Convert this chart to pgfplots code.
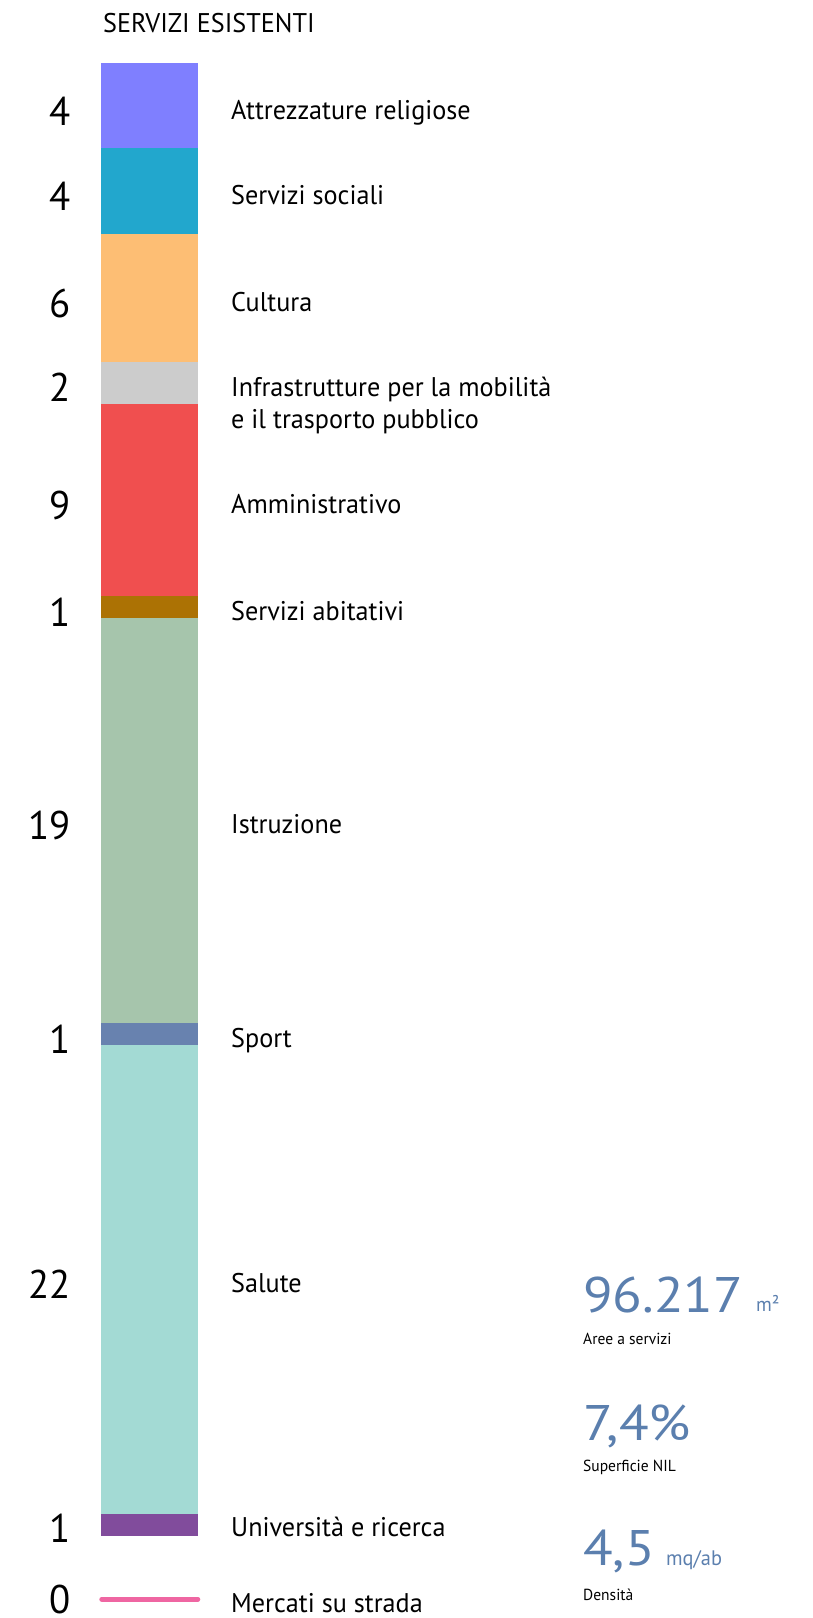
\documentclass[border=0pt]{standalone}
\usepackage{pgfplots}
\pgfplotsset{compat=1.18}
\usepackage{fontspec}
\setmainfont{PT Sans}[FakeStretch=0.97]
\newfontfamily\bigfont{PT Sans}[FakeStretch=1.09]

\definecolor{cRel}{HTML}{7F7FFF}
\definecolor{cSoc}{HTML}{22A7CD}
\definecolor{cCul}{HTML}{FDBE74}
\definecolor{cInf}{HTML}{CCCCCC}
\definecolor{cAmm}{HTML}{F04F4F}
\definecolor{cAbi}{HTML}{AC7204}
\definecolor{cIst}{HTML}{A6C5AC}
\definecolor{cSpo}{HTML}{6882AF}
\definecolor{cSal}{HTML}{A3DAD4}
\definecolor{cUni}{HTML}{814C9C}
\definecolor{cMer}{HTML}{EF66A2}
\definecolor{cTxt}{HTML}{5B7FAE}

\newcommand{\labfont}{\fontsize{27}{31.7}\selectfont}
\newcommand{\numfont}{\fontsize{40}{44}\selectfont}

\pgfplotsset{panel/.style={
    at={(0pt,0pt)}, anchor=north west,
    width=813pt, height=1618pt, scale only axis,
    xmin=0, xmax=813,
    ymin=-2.937, ymax=72.85,
    y dir=reverse,
    hide axis,
    clip=false,
}}

\begin{document}
\begin{tikzpicture}
\useasboundingbox (0pt,0pt) rectangle (813pt,-1618pt);
\begin{axis}[panel, ybar stacked, bar width=97]
  % servizi esistenti, dall'alto verso il basso
  \addplot[fill=cRel, draw=none] coordinates {(149.5,4)};
  \addplot[fill=cSoc, draw=none] coordinates {(149.5,4)};
  \addplot[fill=cCul, draw=none] coordinates {(149.5,6)};
  \addplot[fill=cInf, draw=none] coordinates {(149.5,2)};
  \addplot[fill=cAmm, draw=none] coordinates {(149.5,9)};
  \addplot[fill=cAbi, draw=none] coordinates {(149.5,1)};
  \addplot[fill=cIst, draw=none] coordinates {(149.5,19)};
  \addplot[fill=cSpo, draw=none] coordinates {(149.5,1)};
  \addplot[fill=cSal, draw=none] coordinates {(149.5,22)};
  \addplot[fill=cUni, draw=none] coordinates {(149.5,1)};
\end{axis}

\begin{axis}[panel]
  % mercati su strada = 0
  \addplot[draw=cMer, line width=5pt, line cap=round, mark=none]
    coordinates {(101.8,71.97)(197.8,71.97)};

  \begin{scope}[every node/.style={inner sep=0pt}]
  \node[anchor=base east, yshift=-20pt, font=\numfont] at (axis cs:71,2) {4};
  \node[anchor=base east, yshift=-20pt, font=\numfont] at (axis cs:71,6) {4};
  \node[anchor=base east, yshift=-20pt, font=\numfont] at (axis cs:71,11) {6};
  \node[anchor=base east, yshift=-19pt, font=\numfont] at (axis cs:71,15) {2};
  \node[anchor=base east, yshift=-19pt, font=\numfont] at (axis cs:71,20.5) {9};
  \node[anchor=base east, yshift=-19pt, font=\numfont] at (axis cs:71,25.5) {1};
  \node[anchor=base east, yshift=-19pt, font=\numfont] at (axis cs:71,35.5) {19};
  \node[anchor=base east, yshift=-19pt, font=\numfont] at (axis cs:71,45.5) {1};
  \node[anchor=base east, yshift=-19pt, font=\numfont] at (axis cs:71,57) {22};
  \node[anchor=base east, yshift=-17pt, font=\numfont] at (axis cs:71,68.5) {1};
  \node[anchor=base east, yshift=-14pt, font=\numfont] at (axis cs:71,71.97) {0};

  \node[anchor=base west, yshift=-14.5pt, font=\labfont] at (axis cs:231,2) {Attrezzature religiose};
  \node[anchor=base west, yshift=-14pt, font=\labfont] at (axis cs:231,6) {Servizi sociali};
  \node[anchor=base west, yshift=-13.5pt, font=\labfont] at (axis cs:231,11) {Cultura};
  \node[anchor=base west, yshift=-45.4pt, font=\labfont, align=left] at (axis cs:231,15) {Infrastrutture per la mobilità\\e il trasporto pubblico};
  \node[anchor=base west, yshift=-13pt, font=\labfont] at (axis cs:231,20.5) {Amministrativo};
  \node[anchor=base west, yshift=-13pt, font=\labfont] at (axis cs:231,25.5) {Servizi abitativi};
  \node[anchor=base west, yshift=-13pt, font=\labfont] at (axis cs:231,35.5) {Istruzione};
  \node[anchor=base west, yshift=-13pt, font=\labfont] at (axis cs:231,45.5) {Sport};
  \node[anchor=base west, yshift=-13pt, font=\labfont] at (axis cs:231,57) {Salute};
  \node[anchor=base west, yshift=-11pt, font=\labfont] at (axis cs:231,68.5) {Università e ricerca};
  \node[anchor=base west, yshift=-13.5pt, font=\labfont] at (axis cs:231,71.97) {Mercati su strada};
  \end{scope}
\end{axis}

\begin{scope}[every node/.style={inner sep=0pt, anchor=base west}]
  \node[font=\fontsize{27}{30}\selectfont] at (103pt,-32pt) {SERVIZI ESISTENTI};

  \node[font=\bigfont\fontsize{50}{54}\selectfont, text=cTxt] at (583pt,-1312pt) {96.217};
  \node[font=\fontsize{20}{24}\selectfont, text=cTxt] at (756pt,-1311pt) {m²};
  \node[font=\fontsize{16}{19}\selectfont] at (583pt,-1344pt) {Aree a servizi};

  \node[font=\bigfont\fontsize{50}{54}\selectfont, text=cTxt] at (583pt,-1440pt) {7,4\%};
  \node[font=\fontsize{16}{19}\selectfont] at (583pt,-1471.7pt) {Superficie NIL};

  \node[font=\bigfont\fontsize{50}{54}\selectfont, text=cTxt] at (583pt,-1565pt) {4,5};
  \node[font=\fontsize{21}{24}\selectfont, text=cTxt] at (666pt,-1565pt) {mq/ab};
  \node[font=\fontsize{16}{19}\selectfont] at (583pt,-1600pt) {Densità};
\end{scope}
\end{tikzpicture}
\end{document}
